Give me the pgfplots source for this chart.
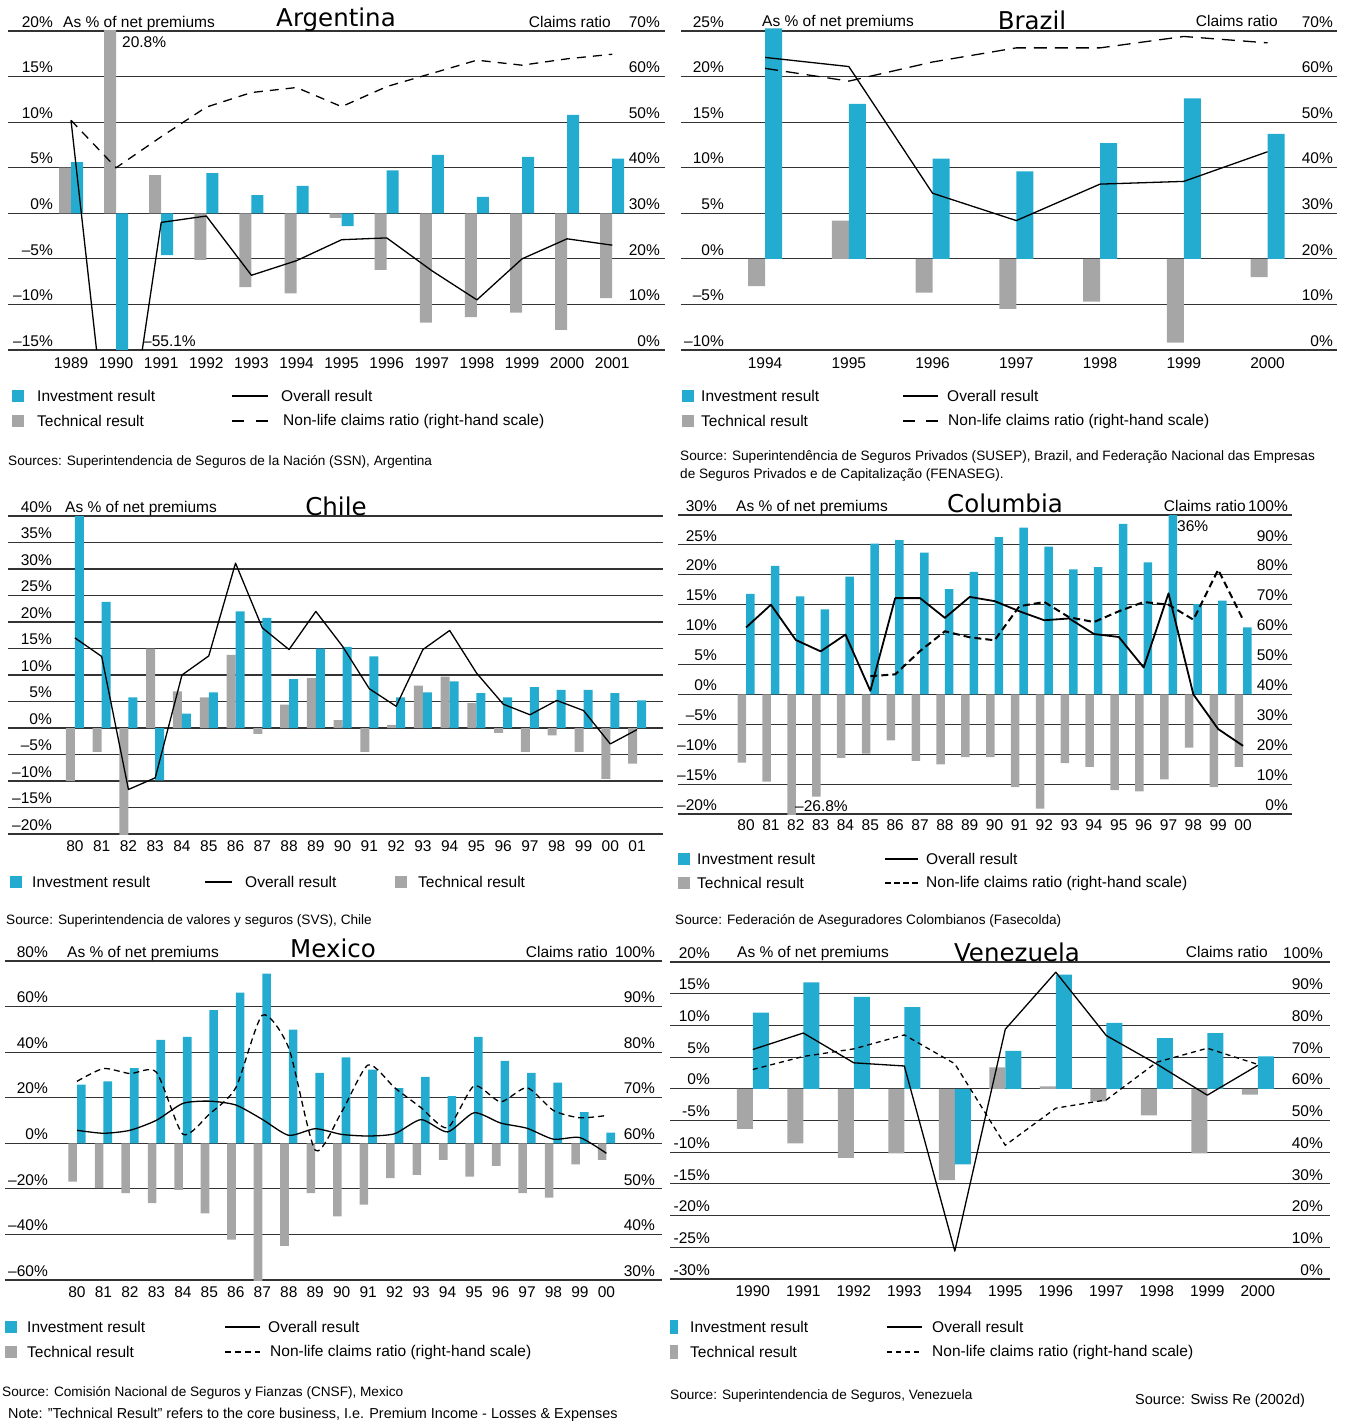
\documentclass[border=0pt]{standalone}
\usepackage{fontspec}
\setmainfont{Liberation Sans}
\newfontfamily\titlefam{DejaVu Sans}
\usepackage{pgfplots}
\pgfplotsset{compat=1.18}
\definecolor{cblue}{RGB}{36,172,208}
\definecolor{cgray}{RGB}{166,166,166}
\newcommand\tickfont{\fontsize{15.5}{18}\selectfont}
\newcommand\legfont{\fontsize{15.5}{18}\selectfont}
\newcommand\srcfont{\fontsize{13.6}{16}\selectfont}
\newcommand\ttl{\titlefam\fontsize{24.5}{29}\selectfont}
\pgfplotsset{
 panel/.style={scale only axis, anchor=south west, axis line style={draw=none},
   major tick length=0pt, tick style={draw=none},
   ticklabel style={font=\tickfont, inner sep=0pt},
   xticklabel style={anchor=north, yshift=-6pt}},
 lefty/.style={ymajorgrids, major grid style={black!80, line width=1.1pt},
   yticklabel style={anchor=south east, xshift=#1, yshift=3.5pt}},
 righty/.style={xtick=\empty, yticklabel pos=right,
   yticklabel style={anchor=south east, xshift=#1, yshift=3.5pt}},
 ovl/.style={black, line width=1.3pt, line join=round},
}
\begin{document}
\begin{tikzpicture}
\useasboundingbox (0,0) rectangle (1347pt,-1424pt);

% ================= ARGENTINA =================
\begin{axis}[panel, lefty=45pt, at={(8pt,-350pt)}, width=657pt, height=319pt,
  xmin=-1.397, xmax=13.17, ymin=-15, ymax=20,
  ytick={-15,-10,-5,0,5,10,15,20},
  yticklabels={--15\%,--10\%,--5\%,0\%,5\%,10\%,15\%,20\%},
  xtick={0,...,12}, xticklabel style={yshift=-1.5pt},
  xticklabels={1989,1990,1991,1992,1993,1994,1995,1996,1997,1998,1999,2000,2001}]
\addplot[ybar, fill=cgray, draw=none, bar width=0.266, bar shift=-0.133] coordinates {
(0,5.0) (1,20.8) (2,4.2) (3,-5.1) (4,-8.1) (5,-8.8) (6,-0.5) (7,-6.2) (8,-12.0) (9,-11.4) (10,-10.9) (11,-12.8) (12,-9.3)};
\addplot[ybar, fill=cblue, draw=none, bar width=0.266, bar shift=0.133] coordinates {
(0,5.6) (1,-55.1) (2,-4.6) (3,4.4) (4,2.0) (5,3.0) (6,-1.4) (7,4.7) (8,6.4) (9,1.8) (10,6.2) (11,10.8) (12,6.0)};
\addplot[ovl] coordinates {
(0,10.2) (1,-34.3) (2,-1.0) (3,-0.3) (4,-6.8) (5,-5.2) (6,-2.9) (7,-2.7) (8,-6.3) (9,-9.5) (10,-5.0) (11,-2.8) (12,-3.5)};
\end{axis}
\begin{axis}[panel, righty=-5pt, at={(8pt,-350pt)}, width=657pt, height=319pt,
  xmin=-1.397, xmax=13.17, ymin=0, ymax=70,
  ytick={0,10,...,70}, yticklabels={0\%,10\%,20\%,30\%,40\%,50\%,60\%,70\%}]
\addplot[black, line width=1.3pt, dash pattern=on 9pt off 7pt] coordinates {
(0,50.4) (1,40) (2,46.8) (3,53.3) (4,56.5) (5,57.6) (6,53.4) (7,57.8) (8,60.7) (9,63.6) (10,62.5) (11,63.9) (12,64.9)};
\end{axis}
\node[font=\ttl, anchor=base, inner sep=0] at (336pt,-27pt) {Argentina};
\node[font=\tickfont, anchor=base west, inner sep=0] at (63pt,-27.5pt) {As \% of net premiums};
\node[font=\tickfont, anchor=base east, inner sep=0] at (611pt,-27.5pt) {Claims ratio};
\node[font=\tickfont, anchor=west, inner sep=0] at (122pt,-42pt) {20.8\%};
\node[font=\tickfont, anchor=west, inner sep=0] at (143pt,-341pt) {--55.1\%};
% legend
\fill[cblue] (12pt,-390pt) rectangle (24pt,-402pt);
\fill[cgray] (12pt,-415pt) rectangle (24pt,-427pt);
\draw[black, line width=1.3pt] (232pt,-396pt) -- (268pt,-396pt);
\draw[black, line width=1.3pt, dash pattern=on 12pt off 12pt] (232pt,-421pt) -- (268pt,-421pt);
\node[font=\legfont, anchor=west, inner sep=0] at (37pt,-396pt) {Investment result};
\node[font=\legfont, anchor=west, inner sep=0] at (37pt,-421pt) {Technical result};
\node[font=\legfont, anchor=west, inner sep=0] at (281pt,-396pt) {Overall result};
\node[font=\legfont, anchor=west, inner sep=0] at (283pt,-421pt) {Non-life claims ratio (right-hand scale)};
\node[font=\srcfont, anchor=west, inner sep=0] at (8pt,-462pt) {Sources: Superintendencia de Seguros de la Nación (SSN), Argentina};

% ================= BRAZIL =================
\begin{axis}[panel, lefty=43pt, at={(681pt,-350pt)}, width=656pt, height=319pt, clip=false,
  xmin=-1.004, xmax=6.83, ymin=-10, ymax=25,
  ytick={-10,-5,0,5,10,15,20,25},
  yticklabels={--10\%,--5\%,0\%,5\%,10\%,15\%,20\%,25\%},
  xtick={0,...,6}, xticklabel style={yshift=-1.5pt},
  xticklabels={1994,1995,1996,1997,1998,1999,2000}]
\addplot[ybar, fill=cgray, draw=none, bar width=0.203, bar shift=-0.1015] coordinates {
(0,-3.0) (1,4.2) (2,-3.7) (3,-5.5) (4,-4.7) (5,-9.2) (6,-2.0)};
\addplot[ybar, fill=cblue, draw=none, bar width=0.203, bar shift=0.1015] coordinates {
(0,25.3) (1,17.0) (2,11.0) (3,9.6) (4,12.7) (5,17.6) (6,13.7)};
\addplot[ovl] coordinates {
(0,22.1) (1,21.1) (2,7.2) (3,4.2) (4,8.2) (5,8.5) (6,11.75)};
\end{axis}
\begin{axis}[panel, righty=-4pt, at={(681pt,-350pt)}, width=656pt, height=319pt,
  xmin=-1.004, xmax=6.83, ymin=0, ymax=70,
  ytick={0,10,...,70}, yticklabels={0\%,10\%,20\%,30\%,40\%,50\%,60\%,70\%}]
\addplot[black, line width=1.3pt, dash pattern=on 13pt off 8pt] coordinates {
(0,61.8) (1,59.0) (2,63.2) (3,66.3) (4,66.3) (5,68.8) (6,67.4)};
\end{axis}
\node[font=\ttl, anchor=base, inner sep=0] at (1032pt,-29pt) {Brazil};
\node[font=\tickfont, anchor=base west, inner sep=0] at (762pt,-26.5pt) {As \% of net premiums};
\node[font=\tickfont, anchor=base east, inner sep=0] at (1278pt,-26.5pt) {Claims ratio};
\fill[cblue] (682pt,-390pt) rectangle (694pt,-402pt);
\fill[cgray] (682pt,-415pt) rectangle (694pt,-427pt);
\draw[black, line width=1.3pt] (903pt,-396pt) -- (938pt,-396pt);
\draw[black, line width=1.3pt, dash pattern=on 12pt off 11pt] (903pt,-421pt) -- (938pt,-421pt);
\node[font=\legfont, anchor=west, inner sep=0] at (701pt,-396pt) {Investment result};
\node[font=\legfont, anchor=west, inner sep=0] at (701pt,-421pt) {Technical result};
\node[font=\legfont, anchor=west, inner sep=0] at (947pt,-396pt) {Overall result};
\node[font=\legfont, anchor=west, inner sep=0] at (948pt,-421pt) {Non-life claims ratio (right-hand scale)};
\node[font=\srcfont, anchor=west, inner sep=0] at (680pt,-457pt) {Source: Superintendência de Seguros Privados (SUSEP), Brazil, and Federação Nacional das Empresas};
\node[font=\srcfont, anchor=west, inner sep=0] at (680pt,-475pt) {de Seguros Privados e de Capitalização (FENASEG).};

% ================= CHILE =================
\begin{axis}[panel, lefty=44pt, at={(8pt,-834pt)}, width=655pt, height=318pt,
  xmin=-2.50, xmax=21.97, ymin=-20, ymax=40,
  ytick={-20,-15,...,40},
  yticklabels={--20\%,--15\%,--10\%,--5\%,0\%,5\%,10\%,15\%,20\%,25\%,30\%,35\%,40\%},
  xtick={0,...,21},
  xticklabels={80,81,82,83,84,85,86,87,88,89,90,91,92,93,94,95,96,97,98,99,00,01}]
\addplot[ybar, fill=cgray, draw=none, bar width=0.336, bar shift=-0.168] coordinates {
(0,-10) (1,-4.5) (2,-21) (3,15.0) (4,6.9) (5,5.8) (6,13.8) (7,-1.1) (8,4.4) (9,9.4) (10,1.5) (11,-4.5) (12,0.6) (13,8.0) (14,9.7) (15,4.7) (16,-0.9) (17,-4.5) (18,-1.4) (19,-4.5) (20,-9.6) (21,-6.7)};
\addplot[ybar, fill=cblue, draw=none, bar width=0.336, bar shift=0.168] coordinates {
(0,41) (1,23.8) (2,5.8) (3,-9.9) (4,2.7) (5,6.7) (6,22.0) (7,20.8) (8,9.2) (9,15.0) (10,15.3) (11,13.5) (12,5.8) (13,6.7) (14,8.8) (15,6.6) (16,5.8) (17,7.7) (18,7.2) (19,7.2) (20,6.6) (21,5.2)};
\addplot[ovl] coordinates {
(0,17.0) (1,13.5) (2,-11.6) (3,-9.4) (4,10.0) (5,13.6) (6,31.1) (7,18.9) (8,14.8) (9,22.0) (10,15.4) (11,7.4) (12,4.1) (13,14.8) (14,18.4) (15,10.4) (16,4.5) (17,2.5) (18,5.2) (19,3.3) (20,-3.0) (21,-0.3)};
\end{axis}
\node[font=\ttl, anchor=base, inner sep=0] at (336pt,-515pt) {Chile};
\node[font=\tickfont, anchor=base west, inner sep=0] at (65pt,-512.5pt) {As \% of net premiums};
\fill[cblue] (10pt,-876pt) rectangle (22pt,-888pt);
\draw[black, line width=1.3pt] (205pt,-882pt) -- (232pt,-882pt);
\fill[cgray] (395pt,-876pt) rectangle (407pt,-888pt);
\node[font=\legfont, anchor=west, inner sep=0] at (32pt,-882pt) {Investment result};
\node[font=\legfont, anchor=west, inner sep=0] at (245pt,-882pt) {Overall result};
\node[font=\legfont, anchor=west, inner sep=0] at (418pt,-882pt) {Technical result};
\node[font=\srcfont, anchor=west, inner sep=0] at (6pt,-921pt) {Source: Superintendencia de valores y seguros (SVS), Chile};

% ================= COLOMBIA =================
\begin{axis}[panel, lefty=39pt, at={(678pt,-814pt)}, width=614pt, height=299pt,
  xmin=-2.74, xmax=21.97, ymin=-20, ymax=30,
  ytick={-20,-15,...,30},
  yticklabels={--20\%,--15\%,--10\%,--5\%,0\%,5\%,10\%,15\%,20\%,25\%,30\%},
  xtick={0,...,20}, xticklabel style={yshift=1pt},
  xticklabels={80,81,82,83,84,85,86,87,88,89,90,91,92,93,94,95,96,97,98,99,00}]
\addplot[ybar, fill=cgray, draw=none, bar width=0.342, bar shift=-0.171] coordinates {
(0,-11.4) (1,-14.6) (2,-26.8) (3,-17.1) (4,-10.6) (5,-9.9) (6,-7.7) (7,-11.1) (8,-11.7) (9,-10.5) (10,-10.5) (11,-15.5) (12,-19.1) (13,-11.5) (14,-12.1) (15,-16.0) (16,-16.2) (17,-14.2) (18,-8.9) (19,-15.5) (20,-12.1)};
\addplot[ybar, fill=cblue, draw=none, bar width=0.342, bar shift=0.171] coordinates {
(0,16.8) (1,21.5) (2,16.4) (3,14.2) (4,19.7) (5,25.2) (6,25.8) (7,23.7) (8,17.6) (9,20.5) (10,26.3) (11,27.9) (12,24.7) (13,20.9) (14,21.3) (15,28.5) (16,22.1) (17,36.0) (18,15.1) (19,15.7) (20,11.2)};
\addplot[ovl, line width=1.8pt] coordinates {
(0,11.2) (1,15.0) (2,9.1) (3,7.2) (4,10.0) (5,0.6) (6,16.1) (7,16.1) (8,12.8) (9,16.3) (10,15.6) (11,13.9) (12,12.4) (13,12.7) (14,10.1) (15,9.6) (16,4.5) (17,16.9) (18,0.0) (19,-5.8) (20,-8.6)};
\end{axis}
\begin{axis}[panel, righty=-4pt, at={(678pt,-814pt)}, width=614pt, height=299pt,
  xmin=-2.74, xmax=21.97, ymin=0, ymax=100,
  ytick={0,10,...,100}, yticklabels={0\%,10\%,20\%,30\%,40\%,50\%,60\%,70\%,80\%,90\%,100\%}]
\addplot[black, line width=2pt, dash pattern=on 7pt off 4pt] coordinates {
(5,46.1) (6,46.7) (7,54.5) (8,61.1) (9,59.1) (10,58.1) (11,69.5) (12,70.9) (13,65.8) (14,64.2) (15,67.8) (16,70.9) (17,70.0) (18,65.0) (19,81.7) (20,65.0)};
\end{axis}
\node[font=\ttl, anchor=base, inner sep=0] at (1005pt,-512pt) {Columbia};
\node[font=\tickfont, anchor=base west, inner sep=0] at (736pt,-511.5pt) {As \% of net premiums};
\node[font=\tickfont, anchor=base east, inner sep=0] at (1246pt,-511.5pt) {Claims ratio};
\node[font=\tickfont, anchor=west, inner sep=0] at (1177pt,-526pt) {36\%};
\node[font=\tickfont, anchor=west, inner sep=0] at (795pt,-806pt) {--26.8\%};
\fill[cblue] (678pt,-853pt) rectangle (690pt,-865pt);
\fill[cgray] (678pt,-877pt) rectangle (690pt,-889pt);
\draw[black, line width=2pt] (885pt,-859pt) -- (918pt,-859pt);
\draw[black, line width=1.6pt, dash pattern=on 6pt off 3pt] (885pt,-883pt) -- (918pt,-883pt);
\node[font=\legfont, anchor=west, inner sep=0] at (697pt,-859pt) {Investment result};
\node[font=\legfont, anchor=west, inner sep=0] at (697pt,-883pt) {Technical result};
\node[font=\legfont, anchor=west, inner sep=0] at (926pt,-859pt) {Overall result};
\node[font=\legfont, anchor=west, inner sep=0] at (926pt,-883pt) {Non-life claims ratio (right-hand scale)};
\node[font=\srcfont, anchor=west, inner sep=0] at (675pt,-921pt) {Source: Federación de Aseguradores Colombianos (Fasecolda)};

% ================= MEXICO =================
\begin{axis}[panel, lefty=43pt, at={(5pt,-1280pt)}, width=657pt, height=319pt,
  xmin=-2.72, xmax=22.1, ymin=-60, ymax=80,
  ytick={-60,-40,...,80},
  yticklabels={--60\%,--40\%,--20\%,0\%,20\%,40\%,60\%,80\%},
  xtick={0,...,20},
  xticklabels={80,81,82,83,84,85,86,87,88,89,90,91,92,93,94,95,96,97,98,99,00}]
\addplot[ybar, fill=cgray, draw=none, bar width=0.325, bar shift=-0.163] coordinates {
(0,-16.8) (1,-19.7) (2,-21.9) (3,-26.3) (4,-20.4) (5,-30.7) (6,-42.3) (7,-61) (8,-45.0) (9,-21.9) (10,-32.1) (11,-26.9) (12,-15.3) (13,-13.9) (14,-7.3) (15,-14.6) (16,-9.9) (17,-21.9) (18,-23.8) (19,-9.2) (20,-7.3)};
\addplot[ybar, fill=cblue, draw=none, bar width=0.325, bar shift=0.163] coordinates {
(0,25.8) (1,27.2) (2,33.0) (3,45.4) (4,46.7) (5,58.4) (6,66.1) (7,74.5) (8,49.9) (9,30.9) (10,37.7) (11,32.3) (12,24.2) (13,29.1) (14,20.7) (15,46.7) (16,36.2) (17,30.9) (18,26.6) (19,13.7) (20,4.7)};
\addplot[ovl, smooth, tension=0.4] coordinates {
(0,5.7) (1,4.4) (2,5.7) (3,10.1) (4,17.5) (5,18.5) (6,16.8) (7,10.5) (8,3.5) (9,6.4) (10,3.9) (11,3.2) (12,4.2) (13,10.4) (14,5.0) (15,13.4) (16,8.9) (17,6.6) (18,1.8) (19,2.5) (20,-4.4)};
\end{axis}
\begin{axis}[panel, righty=-7pt, at={(5pt,-1280pt)}, width=657pt, height=319pt,
  xmin=-2.72, xmax=22.1, ymin=30, ymax=100,
  ytick={30,40,...,100}, yticklabels={30\%,40\%,50\%,60\%,70\%,80\%,90\%,100\%}]
\addplot[black, line width=1.3pt, dash pattern=on 6pt off 4pt, smooth, tension=0.4] coordinates {
(0,73.6) (1,76.4) (2,75.3) (3,75.6) (4,62.0) (5,66.4) (6,72.2) (7,88.1) (8,80.9) (9,58.5) (10,66.9) (11,77.2) (12,72.2) (13,67.8) (14,63.4) (15,72.6) (16,69.1) (17,72.2) (18,67.2) (19,65.6) (20,66.1)};
\end{axis}
\node[font=\ttl, anchor=base, inner sep=0] at (333pt,-957pt) {Mexico};
\node[font=\tickfont, anchor=base west, inner sep=0] at (67pt,-957.5pt) {As \% of net premiums};
\node[font=\tickfont, anchor=base east, inner sep=0] at (608pt,-957.5pt) {Claims ratio};
\fill[cblue] (5pt,-1321pt) rectangle (17pt,-1333pt);
\fill[cgray] (5pt,-1346pt) rectangle (17pt,-1358pt);
\draw[black, line width=1.3pt] (225pt,-1327pt) -- (260pt,-1327pt);
\draw[black, line width=1.3pt, dash pattern=on 6pt off 4pt] (225pt,-1352pt) -- (260pt,-1352pt);
\node[font=\legfont, anchor=west, inner sep=0] at (27pt,-1327pt) {Investment result};
\node[font=\legfont, anchor=west, inner sep=0] at (27pt,-1352pt) {Technical result};
\node[font=\legfont, anchor=west, inner sep=0] at (268pt,-1327pt) {Overall result};
\node[font=\legfont, anchor=west, inner sep=0] at (270pt,-1352pt) {Non-life claims ratio (right-hand scale)};
\node[font=\srcfont, anchor=west, inner sep=0] at (2pt,-1393pt) {Source: Comisión Nacional de Seguros y Fianzas (CNSF), Mexico};
\node[font=\fontsize{14.4}{17}\selectfont, anchor=west, inner sep=0] at (8pt,-1415pt) {Note: "Technical Result" refers to the core business, I.e. Premium Income - Losses \& Expenses};

% ================= VENEZUELA =================
\begin{axis}[panel, lefty=40pt, at={(670pt,-1279pt)}, width=660pt, height=317pt,
  xmin=-1.64, xmax=11.43, ymin=-30, ymax=20,
  ytick={-30,-25,...,20},
  yticklabels={-30\%,-25\%,-20\%,-15\%,-10\%,-5\%,0\%,5\%,10\%,15\%,20\%},
  xtick={0,...,10},
  xticklabels={1990,1991,1992,1993,1994,1995,1996,1997,1998,1999,2000}]
\addplot[ybar, fill=cgray, draw=none, bar width=0.317, bar shift=-0.158] coordinates {
(0,-6.3) (1,-8.6) (2,-10.9) (3,-10.2) (4,-14.4) (5,3.4) (6,0.4) (7,-2.0) (8,-4.2) (9,-10.2) (10,-0.9)};
\addplot[ybar, fill=cblue, draw=none, bar width=0.317, bar shift=0.158] coordinates {
(0,12.0) (1,16.8) (2,14.5) (3,12.9) (4,-11.9) (5,6.0) (6,18.0) (7,10.4) (8,8.0) (9,8.8) (10,5.1)};
\addplot[ovl] coordinates {
(0,6.2) (1,8.8) (2,4.1) (3,3.6) (4,-25.6) (5,9.4) (6,18.4) (7,8.4) (8,3.9) (9,-1.0) (10,3.7)};
\end{axis}
\begin{axis}[panel, righty=-7pt, at={(670pt,-1279pt)}, width=660pt, height=317pt,
  xmin=-1.64, xmax=11.43, ymin=0, ymax=100,
  ytick={0,10,...,100}, yticklabels={0\%,10\%,20\%,30\%,40\%,50\%,60\%,70\%,80\%,90\%,100\%}]
\addplot[black, line width=1.3pt, dash pattern=on 5pt off 4pt] coordinates {
(0,66.1) (1,70.2) (2,72.6) (3,77.0) (4,67.9) (5,42.2) (6,53.9) (7,56.5) (8,68.4) (9,72.8) (10,67.7)};
\end{axis}
\node[font=\ttl, anchor=base, inner sep=0] at (1017pt,-961pt) {Venezuela};
\node[font=\tickfont, anchor=base west, inner sep=0] at (737pt,-957.5pt) {As \% of net premiums};
\node[font=\tickfont, anchor=base east, inner sep=0] at (1268pt,-957.5pt) {Claims ratio};
\fill[cblue] (670pt,-1320pt) rectangle (678pt,-1334pt);
\fill[cgray] (670pt,-1345pt) rectangle (678pt,-1359pt);
\draw[black, line width=1.3pt] (887pt,-1327pt) -- (922pt,-1327pt);
\draw[black, line width=1.3pt, dash pattern=on 5pt off 4pt] (887pt,-1352pt) -- (922pt,-1352pt);
\node[font=\legfont, anchor=west, inner sep=0] at (690pt,-1327pt) {Investment result};
\node[font=\legfont, anchor=west, inner sep=0] at (690pt,-1352pt) {Technical result};
\node[font=\legfont, anchor=west, inner sep=0] at (932pt,-1327pt) {Overall result};
\node[font=\legfont, anchor=west, inner sep=0] at (932pt,-1352pt) {Non-life claims ratio (right-hand scale)};
\node[font=\srcfont, anchor=west, inner sep=0] at (670pt,-1396pt) {Source: Superintendencia de Seguros, Venezuela};
\node[font=\fontsize{14.5}{17}\selectfont, anchor=west, inner sep=0] at (1135pt,-1401pt) {Source: Swiss Re (2002d)};
\end{tikzpicture}
\end{document}
